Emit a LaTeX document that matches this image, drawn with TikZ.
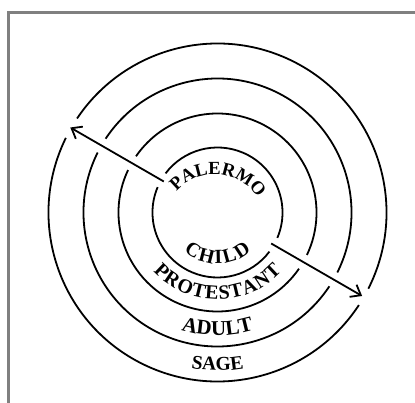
\documentclass[tikz,border=0pt]{standalone}
\usepackage{fontspec}
\setmainfont{Liberation Serif}
\usetikzlibrary{arrows.meta,decorations.text}

\newcommand{\ringfont}[2]{\fontsize{#1}{#1}\selectfont\bfseries\spaceskip=#2}

\begin{document}
\begin{tikzpicture}[x=1pt, y=1pt,
  ring/.style={line width=1.8pt},
  ray/.style={line width=1.8pt, -{Straight Barb[length=9pt, width=14pt, line width=1.8pt]}},
  ringlabel/.style n args={3}{decorate, decoration={text along path, text align=center, text={|\ringfont{#1}{#2}|#3}}},
  frame/.style={line width=3pt, color=black!50}]

\useasboundingbox (-217.5,-190.5) rectangle (197.5,212.5);
\draw[frame] (-208.5,-190.5) |- (197.5,199.5);

\coordinate (O) at (0,0);
\coordinate (in1) at (150:62);
\coordinate (out1) at (150:170);
\coordinate (in2) at (-30:62);
\coordinate (out2) at (-30:167);

% rings, each broken where the rays cross
\foreach \r/\ga/\gb in {65/7/7, 99/4.6/4.6, 134/3.4/3.4, 169/3.8/3.2} {
  \draw[ring] (O) ++(150+\ga:\r) arc[start angle=150+\ga, end angle=330-\gb, radius=\r];
  \draw[ring] (O) ++(-30+\gb:\r) arc[start angle=-30+\gb, end angle=150-\ga, radius=\r];
}

\draw[ray] (in1) -- (out1);
\draw[ray] (in2) -- (out2);

% labels
\path[ringlabel={18.5}{2pt}{PALERMO}] (-2.7,-11.6) ++(160.5:50) arc[start angle=160.5, end angle=10.5, radius=50];
\path[ringlabel={20}{2pt}{C H I L D}] (O) ++(200:51) arc[start angle=200, end angle=340, radius=51];
\path[ringlabel={20}{1pt}{P R O T E S T A N T}] (O) ++(200:87) arc[start angle=200, end angle=340, radius=87];
\path[ringlabel={21}{2pt}{ADULT}] (O) ++(230:123) arc[start angle=230, end angle=310, radius=123];
\path[ringlabel={19.5}{2pt}{SAGE}] (O) ++(240:158) arc[start angle=240, end angle=300, radius=158];

\end{tikzpicture}
\end{document}
